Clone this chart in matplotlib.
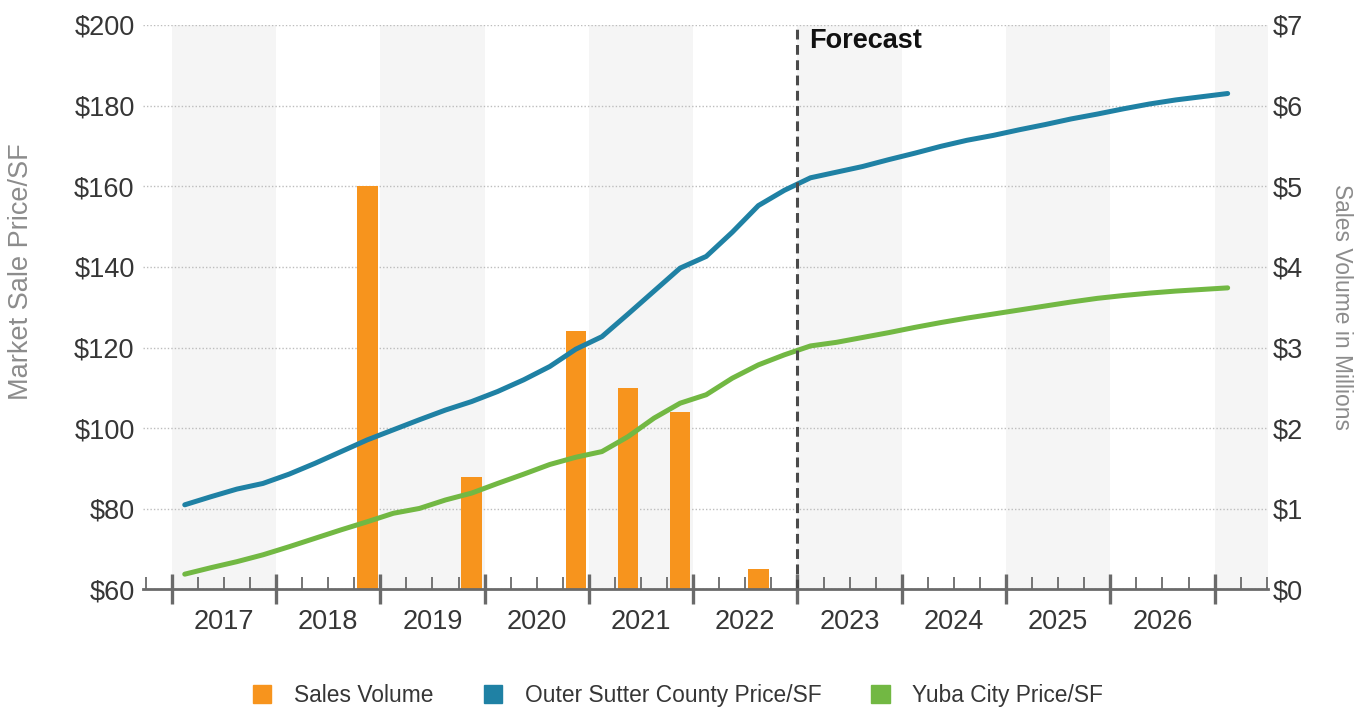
import numpy as np
import matplotlib.pyplot as plt
from matplotlib.patches import Patch

plt.rcParams['font.family'] = ['Liberation Sans', 'DejaVu Sans']

# quarterly series, 2017 Q1 .. 2027 Q1 (forecast from 2023 Q1)
FIRST_YEAR = 2017
years = [2017, 2018, 2019, 2020, 2021, 2022, 2023, 2024, 2025, 2026]
forecast_start = '2023 Q1'

outer_sutter = [81.0, 83.0, 84.9, 86.3, 88.6, 91.3, 94.2, 97.1,
                99.6, 102.1, 104.5, 106.6, 109.1, 112.0, 115.3, 119.6,
                122.7, 128.3, 134.0, 139.7, 142.6, 148.6, 155.2, 159.0,
                162.1, 163.5, 164.9, 166.6, 168.2, 169.9, 171.4, 172.6,
                174.0, 175.3, 176.7, 177.9, 179.2, 180.4, 181.4, 182.2,
                183.0]
yuba_city = [63.8, 65.4, 66.9, 68.6, 70.6, 72.7, 74.8, 76.8,
             78.9, 80.1, 82.2, 83.9, 86.3, 88.6, 91.0, 92.8,
             94.2, 97.9, 102.5, 106.2, 108.3, 112.4, 115.7, 118.2,
             120.4, 121.3, 122.5, 123.7, 125.0, 126.2, 127.3, 128.3,
             129.3, 130.3, 131.3, 132.2, 132.9, 133.5, 134.0, 134.4,
             134.8]

sale_quarters = ['2018 Q4', '2019 Q4', '2020 Q4', '2021 Q2', '2021 Q4', '2022 Q3']
sale_volume = [5.0, 1.4, 3.2, 2.5, 2.2, 0.25]   # $ millions

ORANGE = '#f7941d'
BLUE = '#1f81a4'
GREEN = '#72b843'
AXCOL = '#6a6a6a'
TXT = '#363636'


def qpos(label):
    # quarter label -> x position (centre of the quarter, 1 unit = 1 quarter)
    y, q = label.split(' Q')
    return (int(y) - FIRST_YEAR) * 4 + int(q) - 0.5


xq = np.arange(len(outer_sutter)) + 0.5
xfc = qpos(forecast_start) - 0.5

fig = plt.figure(figsize=(13.7, 7.11), dpi=100)
ax2 = fig.add_axes([0.1044, 0.1709, 0.8212, 0.7940])
ax = ax2.twinx()
ax.set_zorder(ax2.get_zorder() + 1)
ax.patch.set_visible(False)
ax.xaxis.set_visible(True)

x0, x1 = -1.1, 42.05
ax2.set_xlim(x0, x1)
ax2.set_ylim(0, 7)
ax.set_ylim(60, 200)

# alternating year bands
for k in range(0, 12, 2):
    ax2.axvspan(k * 4, min(k * 4 + 4, x1), color='#f5f5f5', lw=0, zorder=0)

ax2.set_yticks(np.arange(0, 8))
ax2.yaxis.grid(True, ls=(0, (1, 1.5)), color='#bdbdbd', lw=1.0, zorder=1)
ax2.set_axisbelow(True)

ax2.bar([qpos(q) for q in sale_quarters], sale_volume, width=0.79,
        color=ORANGE, zorder=2)

ax.plot(xq, outer_sutter, color=BLUE, lw=3.6, solid_capstyle='round')
ax.plot(xq, yuba_city, color=GREEN, lw=3.6, solid_capstyle='round')

ax.axvline(xfc, color='#4a4a4a', lw=2.2, ls=(0, (3.2, 1.8)))
ax.text(xfc + 0.45, 196, 'Forecast', fontsize=19.5, fontweight='bold',
        color='#111111', va='center', ha='left')

# right axis: ax2 holds the $M scale but labels go on the right
ax2.yaxis.tick_right()
ax2.yaxis.set_label_position('right')
ax2.set_yticklabels(['$%d' % v for v in range(0, 8)])
ax2.tick_params(axis='y', length=0, pad=3, labelsize=19.5, labelcolor=TXT)
ax2.set_ylabel('Sales Volume in Millions', fontsize=16.4, color='#8c8c8c',
               rotation=270, labelpad=36)

# left axis: price per SF
ax.yaxis.tick_left()
ax.yaxis.set_label_position('left')
ax.set_yticks(np.arange(60, 201, 20))
ax.set_yticklabels(['$%d' % v for v in range(60, 201, 20)])
ax.tick_params(axis='y', length=0, pad=6, labelsize=19.5, labelcolor=TXT)
ax.set_ylabel('Market Sale Price/SF', fontsize=19.5, color='#8c8c8c')
ax.yaxis.set_label_coords(-0.097, 0.5624)

for a in (ax, ax2):
    for s in ('top', 'left', 'right'):
        a.spines[s].set_visible(False)
ax2.spines['bottom'].set_visible(False)
ax.spines['bottom'].set_color(AXCOL)
ax.spines['bottom'].set_linewidth(2.0)
ax2.tick_params(axis='x', which='both', bottom=False, top=False, labelbottom=False)

# quarter ticks on the bottom axis, year labels between year boundaries
ax.set_xticks(np.arange(0, 41, 4))
ax.set_xticks([q for q in range(-1, 43) if q % 4 != 0], minor=True)
ax.tick_params(axis='x', which='major', direction='inout', length=22, width=2.4,
               color=AXCOL, labelbottom=False, top=False)
ax.tick_params(axis='x', which='minor', direction='in', length=9, width=1.3,
               color=AXCOL, top=False)
for i, yr in enumerate(years):
    ax.text(i * 4 + 2, -0.057, str(yr), transform=ax.get_xaxis_transform(),
            ha='center', va='center', fontsize=19.5, color=TXT)

handles = [Patch(color=ORANGE), Patch(color=BLUE), Patch(color=GREEN)]
labels = ['Sales Volume', 'Outer Sutter County Price/SF', 'Yuba City Price/SF']
fig.legend(handles, labels, loc='center', bbox_to_anchor=(0.495, 0.022), ncol=3,
           frameon=False, fontsize=16.4, handlelength=0.8, handleheight=0.8,
           handletextpad=1.0, columnspacing=2.2, labelcolor=TXT)

fig.savefig('out.png', dpi=100)
